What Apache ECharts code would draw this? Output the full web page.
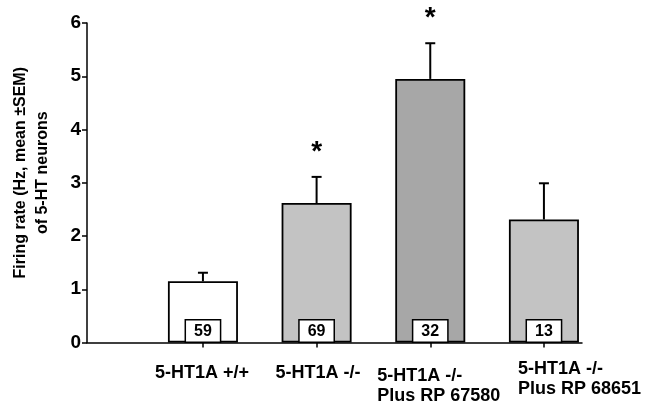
<!DOCTYPE html>
<html>
<head>
<meta charset="utf-8">
<script src="https://cdn.jsdelivr.net/npm/echarts@6/dist/echarts.min.js"></script>
<style>html,body{margin:0;padding:0;background:#fff}#c{width:645px;height:405px}</style>
</head>
<body>
<div id="c"></div>
<script>
// ---- data ----
const categories = ['5-HT1A +/+', '5-HT1A -/-', '5-HT1A -/-\nPlus RP 67580', '5-HT1A -/-\nPlus RP 68651'];
const means = [1.15, 2.62, 4.95, 2.31];
const sems = [0.16, 0.49, 0.67, 0.68];
const nCells = [59, 69, 32, 13];
const stars = ['', '*', '*', ''];
const yTicks = [0, 1, 2, 3, 4, 5, 6];

// ---- style ----
const barColors = ['#ffffff', '#c3c3c3', '#a7a7a7', '#c3c3c3'];
const labelShiftPx = [-48, -41, -53, -26];   // horizontal offset of each label's left edge from its tick
const labelDropPx = [8.5, 8.5, 11.5, 5];     // extra vertical offset of each label
const gridLeft = 87, gridRight = 63;
const xMin = -1.02, xMax = 3.335;
const unitPx = (645 - gridLeft - gridRight) / (xMax - xMin);
const catPos = categories.map((c, i) => i);
const labelPos = catPos.map((p, i) => p + labelShiftPx[i] / unitPx);
const FONT = 'Liberation Sans, Arial, Helvetica, sans-serif';

const rich = {t: {fontFamily: FONT, fontWeight: 'bold', fontSize: 18, lineHeight: 20, color: '#000'}};
labelDropPx.forEach((d, i) => { rich['s' + i] = {fontSize: 1, lineHeight: d}; });

const chart = echarts.init(document.getElementById('c'), null, {renderer: 'canvas'});
chart.setOption({
  animation: false,
  backgroundColor: '#fff',
  grid: {left: gridLeft, right: gridRight, top: 23, bottom: 62, containLabel: false},
  xAxis: {
    type: 'value', min: xMin, max: xMax,
    splitLine: {show: false},
    axisLine: {show: true, onZero: false, lineStyle: {color: '#000', width: 1.5}},
    axisTick: {show: true, customValues: catPos, length: 5, lineStyle: {color: '#000', width: 1.5}},
    axisLabel: {
      show: true, customValues: labelPos, align: 'left', margin: 12,
      fontFamily: FONT, fontWeight: 'bold', fontSize: 18, color: '#000',
      rich: rich,
      formatter: function (v) {
        let best = 0;
        labelPos.forEach((p, i) => { if (Math.abs(p - v) < Math.abs(labelPos[best] - v)) best = i; });
        const lines = categories[best].split('\n').map(s => '{t|' + s + '}');
        return '{s' + best + '|\u00a0}\n' + lines.join('\n');
      }
    }
  },
  yAxis: {
    type: 'value', min: yTicks[0], max: yTicks[yTicks.length - 1], interval: 1,
    name: 'Firing rate (Hz, mean \u00B1SEM)\nof 5-HT neurons',
    nameLocation: 'middle', nameGap: 33, nameRotate: 90,
    nameTextStyle: {fontFamily: FONT, fontWeight: 'bold', fontSize: 16, lineHeight: 22, color: '#000', padding: [0, 0, 0, 20]},
    splitLine: {show: false},
    axisLine: {show: true, onZero: false, lineStyle: {color: '#000', width: 1.5}},
    axisTick: {show: true, length: 5, lineStyle: {color: '#000', width: 1.5}},
    axisLabel: {fontFamily: FONT, fontWeight: 'bold', fontSize: 19, color: '#000', margin: 6}
  },
  series: [
    {
      type: 'bar',
      barWidth: 70,
      data: means.map((m, i) => ({value: [catPos[i], m], itemStyle: {color: barColors[i]}})),
      itemStyle: {borderColor: '#000', borderWidth: 1.8},
      label: {
        show: true, position: 'insideBottom', distance: 1,
        formatter: p => String(nCells[p.dataIndex]),
        fontFamily: FONT, fontWeight: 'bold', fontSize: 16, lineHeight: 17, color: '#000',
        backgroundColor: '#fff', borderColor: '#000', borderWidth: 1.5, padding: [3, 8, 1, 8]
      },
      z: 2
    },
    {
      type: 'custom',
      data: means.map((m, i) => [catPos[i], m, sems[i]]),
      renderItem: function (params, api) {
        const x = api.value(0), m = api.value(1), s = api.value(2);
        const p0 = api.coord([x, m]);
        const p1 = api.coord([x, m + s]);
        const st = {stroke: '#000', lineWidth: 2};
        const children = [
          {type: 'line', shape: {x1: p0[0], y1: p0[1], x2: p1[0], y2: p1[1]}, style: st},
          {type: 'line', shape: {x1: p1[0] - 5, y1: p1[1], x2: p1[0] + 5, y2: p1[1]}, style: st}
        ];
        const star = stars[params.dataIndex];
        if (star) {
          children.push({type: 'text', style: {text: star, x: p1[0], y: p1[1] - 25, align: 'center', verticalAlign: 'middle',
            font: 'bold 28px ' + FONT, fill: '#000'}});
        }
        return {type: 'group', children: children};
      },
      z: 3
    }
  ]
});
</script>
</body>
</html>
